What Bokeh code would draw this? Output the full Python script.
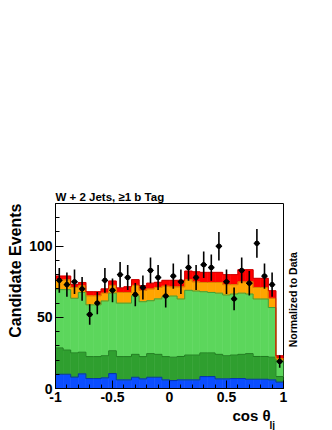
import numpy as np
from math import pi
from bokeh.plotting import figure
from bokeh.models import (FixedTicker, ColumnDataSource, CustomJSTickFormatter,
                          Title, LinearAxis)
from bokeh.embed import file_html
from bokeh.resources import INLINE

# ---- data (30 bins in cos theta_lj from -1 to 1) ----
n_bins = 30
blue = [10.0, 10.0, 8.0, 10.3, 7.0, 7.0, 7.5, 10.5, 6.1, 6.1,
        7.9, 6.8, 7.9, 7.9, 6.1, 5.6, 6.1, 6.1, 6.1, 8.4,
        8.4, 6.8, 6.8, 7.0, 7.0, 6.5, 6.5, 6.5, 6.1, 4.5]
dark_green = [18.5, 17.0, 17.0, 15.2, 15.4, 15.4, 15.5, 16.0, 16.3, 16.3,
              16.1, 15.6, 16.6, 16.1, 16.3, 16.4, 16.4, 17.4, 17.4, 16.6,
              16.6, 17.2, 16.2, 16.5, 17.0, 18.0, 16.0, 16.0, 15.9, 3.9]
light_green = [41.0, 42.5, 38.4, 42.0, 36.4, 36.4, 38.5, 40.5, 37.6, 37.6,
               41.2, 38.6, 37.2, 39.0, 42.1, 43.0, 40.4, 45.5, 45.0, 43.0,
               42.5, 43.0, 42.7, 42.9, 43.0, 41.9, 40.4, 40.4, 34.9, 11.1]
orange = [6.9, 6.9, 7.6, 4.7, 6.4, 6.4, 5.6, 5.5, 7.5, 7.5,
          7.3, 8.0, 8.3, 8.0, 7.5, 6.5, 8.6, 7.5, 6.5, 6.5,
          7.0, 7.5, 7.3, 6.6, 8.0, 8.6, 8.1, 8.1, 6.5, 1.5]
red = [2.6, 2.6, 2.0, 2.3, 2.8, 2.8, 2.9, 3.0, 3.2, 4.0,
       4.0, 3.2, 4.0, 3.6, 4.0, 4.5, 4.5, 6.0, 7.0, 7.1,
       7.1, 7.1, 7.0, 7.0, 8.5, 8.5, 6.4, 6.4, 5.3, 2.0]
data = [76, 73, 75, 70, 52, 60, 76, 69, 80, 78,
        66, 71, 83, 78, 65, 79, 75, 85, 78, 87,
        85, 100, 75, 63, 83, 74, 102, 79, 73, 19]
x_ticks = [-1, -0.5, 0, 0.5, 1]
y_ticks = [0, 50, 100]

edges = np.linspace(-1.0, 1.0, n_bins + 1)
centers = 0.5 * (edges[:-1] + edges[1:])
bw = edges[1] - edges[0]

FONT = "Liberation Sans"
names = ["blue", "dark_green", "light_green", "orange", "red"]
fills = ["#0b4dff", "#2f9f2f", "#5cd65c", "#ffa500", "#ff0000"]
lines = ["#0633b0", "#1f7a1f", "#3aa23a", "#d98a00", "#cc0000"]

src = ColumnDataSource(dict(x=centers, blue=blue, dark_green=dark_green,
                            light_green=light_green, orange=orange, red=red))

p = figure(width=330, height=430, x_range=(-1, 1), y_range=(0, 130),
           output_backend="svg", toolbar_location=None,
           min_border_left=55, min_border_right=47,
           min_border_top=203, min_border_bottom=42)
p.background_fill_color = "white"
p.border_fill_color = "white"
p.outline_line_color = "black"
p.outline_line_width = 1
p.xgrid.visible = False
p.ygrid.visible = False

p.vbar_stack(names, x="x", width=bw, source=src, color=fills, line_width=0.6)

cum = np.zeros(n_bins)
for nm, lc in zip(names, lines):
    cum = cum + np.array(src.data[nm])
    p.step(x=edges, y=np.append(cum, cum[-1]), mode="after",
           line_color=lc, line_width=1)

d = np.array(data, dtype=float)
err = np.sqrt(d)
p.segment(x0=centers, y0=d - err, x1=centers, y1=d + err,
          line_color="black", line_width=1.6)
p.segment(x0=centers - bw * 0.42, y0=d, x1=centers + bw * 0.42, y1=d,
          line_color="black", line_width=1.4)
p.scatter(centers, d, size=4.5, color="black")

# axes
for ax in (p.xaxis[0], p.yaxis[0]):
    ax.major_label_text_font = FONT
    ax.major_label_text_font_style = "bold"
    ax.major_label_text_font_size = "14px"
    ax.major_label_text_color = "black"
    ax.major_tick_in = 8
    ax.major_tick_out = 0
    ax.minor_tick_in = 4
    ax.minor_tick_out = 0
    ax.axis_line_color = "black"
    ax.major_tick_line_color = "black"
    ax.minor_tick_line_color = "black"
    ax.major_label_standoff = 3

p.xaxis.ticker = FixedTicker(ticks=x_ticks,
                             minor_ticks=[round(v, 2) for v in np.arange(-1.0, 1.001, 0.1)])
p.yaxis.ticker = FixedTicker(ticks=y_ticks, minor_ticks=list(range(0, 131, 10)))
p.xaxis.formatter = CustomJSTickFormatter(code="return tick.toString()")
p.yaxis.formatter = CustomJSTickFormatter(code="return tick.toString()")

def style_title(t, size):
    t.text_font = FONT
    t.text_font_style = "bold"
    t.text_font_size = size
    t.text_color = "black"
    return t

# top title
p.title.text = "W + 2 Jets, \u22651 b Tag"
p.title.align = "left"
p.title.standoff = 1
style_title(p.title, "11.5px")

# y title (left, aligned at top end)
yt = style_title(Title(text="Candidate Events", align="right", standoff=6), "16px")
p.add_layout(yt, "left")

# right side text, reading bottom-to-top
rax = LinearAxis(ticker=FixedTicker(ticks=[29]),
                 formatter=CustomJSTickFormatter(code="return 'Normalized to Data'"),
                 major_label_orientation=pi / 2)
rax.axis_line_color = None
rax.major_tick_line_color = None
rax.minor_tick_line_color = None
rax.major_tick_in = 0
rax.major_tick_out = 0
rax.major_label_standoff = 10
rax.major_label_text_font = FONT
rax.major_label_text_font_style = "bold"
rax.major_label_text_font_size = "10.5px"
rax.major_label_text_color = "black"
p.add_layout(rax, "right")

# x title: "cos θ" with subscript "lj"
xt = style_title(Title(text="cos \u03b8", align="left", offset=177, standoff=0), "15px")
p.add_layout(xt, "below")
xs = style_title(Title(text="lj", align="left", offset=214, standoff=-12), "10px")
p.add_layout(xs, "below")

open("out.html", "w").write(file_html(p, INLINE))
